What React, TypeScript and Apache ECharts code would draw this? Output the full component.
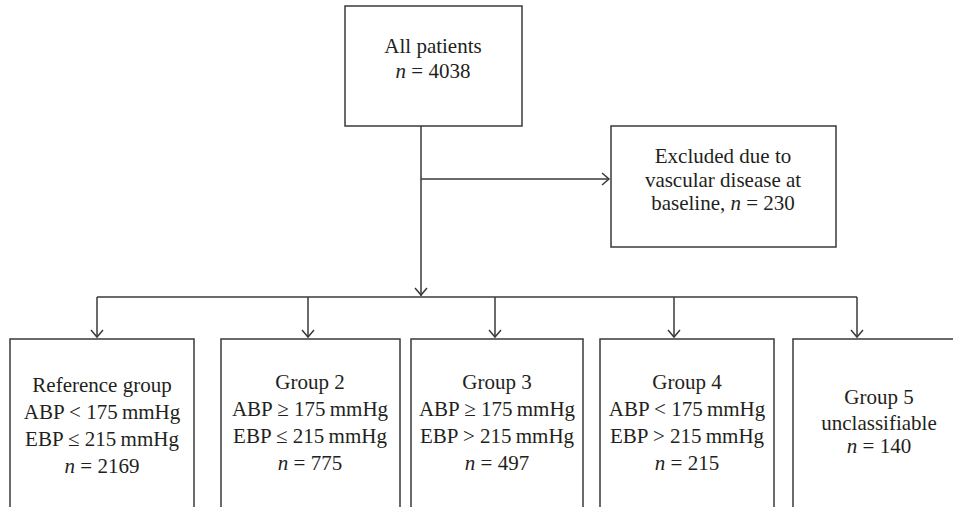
import React, { useEffect, useRef } from "react";
import * as echarts from "echarts";

// ---- data ----
const topTitle = "All patients";
const totalN = 4038;
const excludedLines = ["Excluded due to", "vascular disease at", "baseline, "];
const excludedN = 230;
const groupNames = ["Reference group", "Group 2", "Group 3", "Group 4", "Group 5"];
const abpConditions = ["ABP < 175\u2009mmHg", "ABP \u2265 175\u2009mmHg", "ABP \u2265 175\u2009mmHg", "ABP < 175\u2009mmHg", ""];
const ebpConditions = ["EBP \u2264 215\u2009mmHg", "EBP \u2264 215\u2009mmHg", "EBP > 215\u2009mmHg", "EBP > 215\u2009mmHg", ""];
const groupNotes = ["", "", "", "", "unclassifiable"];
const groupN = [2169, 775, 497, 215, 140];

// ---- layout (positions only) ----
const FONT = "'Liberation Serif', 'Times New Roman', serif";
const FS = 21;
const LINE = "#3a3a3a";
const TXT = "#231f20";
const LW = 1.5;

const boxes = [
  { x1: 10, x2: 194, cx: 102, arrow: 97, y0: 385 },
  { x1: 221, x2: 400, cx: 310, arrow: 308, y0: 382 },
  { x1: 411, x2: 583, cx: 497, arrow: 495, y0: 382 },
  { x1: 600, x2: 774, cx: 687, arrow: 674, y0: 382 },
  { x1: 793, x2: 980, cx: 879, arrow: 857, y0: 397 },
];

function line(x1: number, y1: number, x2: number, y2: number) {
  return { type: "line", shape: { x1, y1, x2, y2 }, style: { stroke: LINE, lineWidth: LW }, silent: true };
}
function rect(x: number, y: number, w: number, h: number) {
  return { type: "rect", shape: { x, y, width: w, height: h }, style: { fill: "#fff", stroke: LINE, lineWidth: LW }, silent: true };
}
function arrowDown(x: number, tip: number) {
  return { type: "polyline", shape: { points: [[x - 6, tip - 7], [x, tip], [x + 6, tip - 7]] }, style: { stroke: LINE, lineWidth: LW, fill: null }, silent: true };
}
function arrowRight(x: number, y: number) {
  return { type: "polyline", shape: { points: [[x - 7, y - 6], [x, y], [x - 7, y + 6]] }, style: { stroke: LINE, lineWidth: LW, fill: null }, silent: true };
}
const rich = {
  i: { fontStyle: "italic", fontFamily: FONT, fontSize: FS, fill: TXT },
  r: { fontFamily: FONT, fontSize: FS, fill: TXT },
};
function text(t: string, x: number, y: number) {
  return {
    type: "text",
    x,
    y,
    silent: true,
    style: {
      text: t,
      fontFamily: FONT,
      fontSize: FS,
      fill: TXT,
      align: "center",
      verticalAlign: "middle",
      rich,
    },
  };
}
const nText = (n: number, prefix = "") => `{r|${prefix}}{i|n}{r| = ${n}}`;

export default function App() {
  const ref = useRef<HTMLDivElement>(null);
  useEffect(() => {
    document.body.style.margin = "0";
    const chart = echarts.init(ref.current!, null, { renderer: "svg" });
    const els: any[] = [];

    // top box
    els.push(rect(345, 6, 177, 120));
    els.push(text(topTitle, 433, 46));
    els.push(text(nText(totalN), 433, 71));

    // connectors
    els.push(line(421, 126, 421, 296));
    els.push(arrowDown(421, 295));
    els.push(line(421, 179, 609, 179));
    els.push(arrowRight(609, 179));

    // excluded box
    els.push(rect(611, 126, 225, 121));
    els.push(text(excludedLines[0], 723, 156));
    els.push(text(excludedLines[1], 723, 180));
    els.push(text(`{r|${excludedLines[2]}}{i|n}{r| = ${excludedN}}`, 723, 203));

    // horizontal distribution line
    els.push(line(boxes[0].arrow, 297, boxes[boxes.length - 1].arrow, 297));

    boxes.forEach((b, i) => {
      els.push(line(b.arrow, 297, b.arrow, 337));
      els.push(arrowDown(b.arrow, 337));
      els.push(rect(b.x1, 339, b.x2 - b.x1, 200));
      if (groupNotes[i]) {
        els.push(text(groupNames[i], b.cx, b.y0));
        els.push(text(groupNotes[i], b.cx, b.y0 + 26));
        els.push(text(nText(groupN[i]), b.cx, b.y0 + 49));
      } else {
        els.push(text(groupNames[i], b.cx, b.y0));
        els.push(text(abpConditions[i], b.cx, b.y0 + 27));
        els.push(text(ebpConditions[i], b.cx, b.y0 + 54));
        els.push(text(nText(groupN[i]), b.cx, b.y0 + 81));
      }
    });

    chart.setOption({
      animation: false,
      backgroundColor: "#fff",
      graphic: { elements: els },
    });
    return () => chart.dispose();
  }, []);
  return <div ref={ref} style={{ width: 953, height: 507 }} />;
}
